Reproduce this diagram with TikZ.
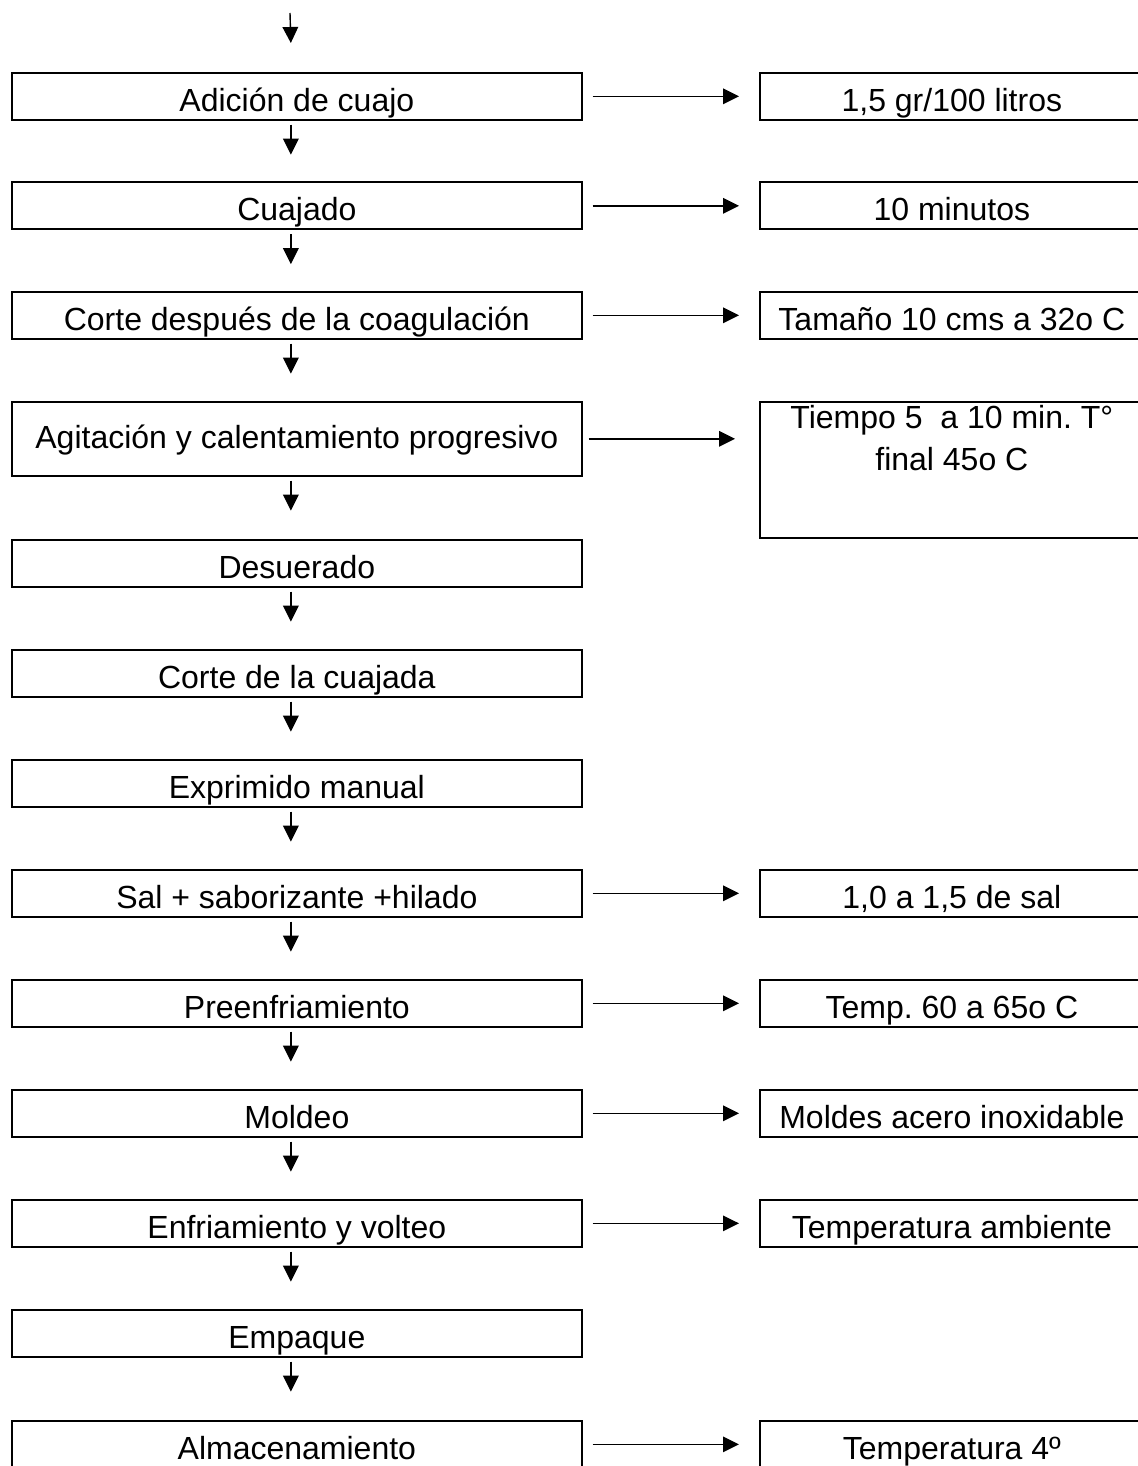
\documentclass[tikz,border=0pt]{standalone}
\usepackage{fontspec}
\setmainfont{Liberation Sans}
\usetikzlibrary{arrows.meta,calc}
\frenchspacing
\begin{document}
\begin{tikzpicture}[x=0.5pt,y=-0.5pt,
  every node/.style={font=\fontsize{16pt}{21pt}\selectfont, inner sep=0pt},
  stepbox/.style={draw, line width=0.85pt, anchor=north west,
    minimum width=285pt, minimum height=23.5pt,
    text height=16pt, text depth=1pt},
  notebox/.style={draw, line width=0.85pt, anchor=north west,
    minimum width=192pt, minimum height=23.5pt,
    text height=16pt, text depth=1pt},
  flow/.style={line width=0.7pt, -{Triangle[length=8pt,width=7.8pt]}}
]
\useasboundingbox (0,0) rectangle (1138,1466);
\clip (0,0) rectangle (1138,1466);

% process steps (left column)
\node[stepbox] (lA) at (11,72)   {Adición de cuajo};
\node[stepbox] (lB) at (11,181.5){Cuajado};
\node[stepbox] (lC) at (11,291)  {Corte después de la coagulación};
\node[stepbox, minimum height=37pt, text height=12pt, text depth=2pt] (lD) at (11,401)
  {Agitación y calentamiento progresivo};
\node[stepbox] (lE) at (11,539)  {Desuerado};
\node[stepbox] (lF) at (11,649)  {Corte de la cuajada};
\node[stepbox] (lG) at (11,759)  {Exprimido manual};
\node[stepbox] (lH) at (11,869)  {Sal + saborizante +hilado};
\node[stepbox] (lI) at (11,979)  {Preenfriamiento};
\node[stepbox] (lJ) at (11,1089) {Moldeo};
\node[stepbox] (lK) at (11,1199) {Enfriamiento y volteo};
\node[stepbox] (lL) at (11,1309) {Empaque};
\node[stepbox] (lM) at (11,1420) {Almacenamiento};

% process conditions (right column)
\node[notebox] (rA) at (759,72)    {1,5 gr/100 litros};
\node[notebox] (rB) at (759,181.5) {10 minutos};
\node[notebox] (rC) at (759,291)   {Tamaño 10 cms a 32o C};
\node[notebox, minimum height=68pt, text height=0pt, text depth=0pt] (rD) at (759,401) {};
\node[anchor=north, align=center] (rDt) at ($(rD.north)+(0,4)$)
  {Tiempo 5\ \ a 10 min. T°\\final 45o C};
\node[notebox] (rH) at (759,869)  {1,0 a 1,5 de sal};
\node[notebox] (rI) at (759,979)  {Temp. 60 a 65o C};
\node[notebox] (rJ) at (759,1089) {Moldes acero inoxidable};
\node[notebox] (rK) at (759,1199) {Temperatura ambiente};
\node[notebox] (rM) at (759,1420) {Temperatura 4º};

% incoming flow
\coordinate (in) at (290,13);
\draw[flow] (in) -- ($(lA.north)+(-6,-29)$);

% flow between steps
\foreach \a in {A,B,C,D,E,F,G,H,I,J,K,L}{
  \draw[flow] ($(l\a.south)+(-6,4)$) -- ++(0,30);
}

% links to conditions
\foreach \a in {A,B,C,H,I,J,K,M}{
  \draw[flow] ($(l\a.east)+(10,0)$) -- ($(r\a.west |- l\a.east)+(-20,0)$);
}
\draw[flow] ($(lD.east)+(6,0)$) -- ($(rD.west |- lD.east)+(-24,0)$);
\end{tikzpicture}
\end{document}
